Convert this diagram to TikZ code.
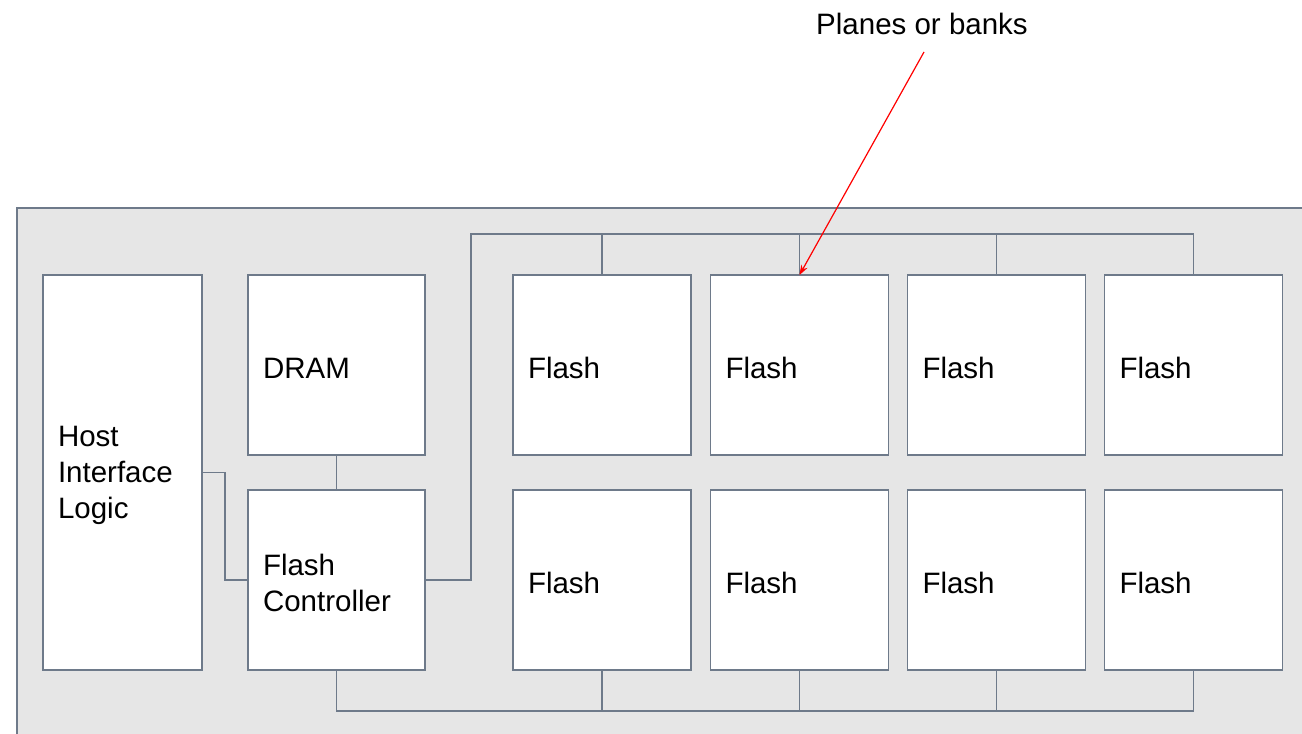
\documentclass[tikz,border=0pt]{standalone}
\usepackage{fontspec}
\setmainfont{Liberation Sans}
\usetikzlibrary{arrows.meta}
\definecolor{panel}{HTML}{E6E6E6}
\definecolor{edge}{HTML}{6E7A8A}
\tikzset{
  unit/.style={draw=edge, fill=white, line width=1.3pt, outer sep=0pt,
    inner xsep=15pt, inner ysep=0pt, align=left, font=\fontsize{29.5}{36}\selectfont,
    execute at begin node={\rule{0pt}{27pt}}},
  bus/.style={draw=edge, line width=1.3pt},
  callout/.style={draw=red, line width=1.2pt, -{Stealth[length=10pt,width=7pt]}}
}
\newcommand{\unitbox}[5]{% name, x, y, width, text
  \node[unit, minimum width=#4pt, minimum height=180pt, text width=#4pt-30pt] (#1) at (#2,#3) {#5};}
\begin{document}
\begin{tikzpicture}[x=1pt,y=-1pt]
  \useasboundingbox (0,0) rectangle (1302,734);
  \clip (0,0) rectangle (1302,734);
  % board outline
  \draw[fill=panel, draw=edge, line width=1.3pt] (17,208) rectangle (1320,760);

  % host side blocks
  \node[unit, minimum width=159pt, minimum height=395pt, text width=129pt] (host) at (122.5,472.5) {Host\\Interface\\Logic};
  \unitbox{dram}{336.5}{365}{177}{DRAM}
  \unitbox{ctrl}{336.5}{580}{177}{Flash\\Controller}

  % flash array
  \unitbox{fa}{602}{365}{178}{Flash}
  \unitbox{fb}{799.5}{365}{178}{Flash}
  \unitbox{fc}{996.5}{365}{178}{Flash}
  \unitbox{fd}{1193.5}{365}{178}{Flash}
  \unitbox{ga}{602}{580}{178}{Flash}
  \unitbox{gb}{799.5}{580}{178}{Flash}
  \unitbox{gc}{996.5}{580}{178}{Flash}
  \unitbox{gd}{1193.5}{580}{178}{Flash}

  % buses
  \coordinate (topbus) at (471,234);
  \coordinate (lowbus) at (336.5,711);
  \draw[bus] (dram.south) -- (ctrl.north);
  \draw[bus] (host.east) -- ++(23,0) |- (ctrl.west);
  \draw[bus] (ctrl.east) -| (topbus) -| (fd.north);
  \foreach \f in {fa,fb,fc}
    \draw[bus] (\f.north) -- (\f.north |- topbus);
  \draw[bus] (ctrl.south) |- (gd.south |- lowbus) -- (gd.south);
  \foreach \f in {ga,gb,gc}
    \draw[bus] (\f.south) -- (\f.south |- lowbus);

  % callout
  \node[font=\fontsize{29.5}{36}\selectfont, inner sep=0pt] (lbl) at (922,24) {Planes or banks};
  \coordinate (lbltail) at (924,52);
  \draw[callout] (lbltail) -- (fb.north);
\end{tikzpicture}
\end{document}
